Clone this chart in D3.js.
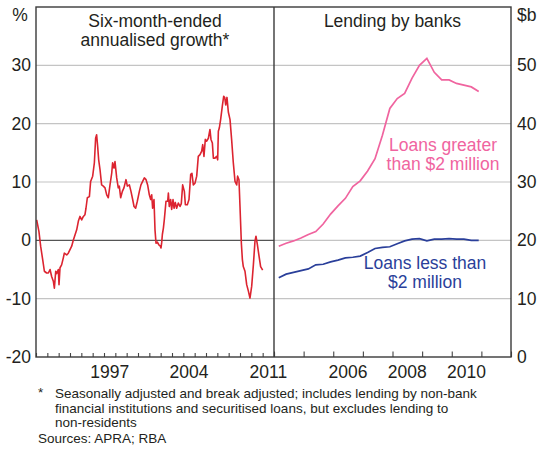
<!DOCTYPE html>
<html>
<head>
<meta charset="utf-8">
<script src="https://cdn.jsdelivr.net/npm/d3@7"></script>
<style>
  html, body { margin: 0; padding: 0; background: #fff; }
  svg { display: block; font-family: "Liberation Sans", Arial, Helvetica, sans-serif; }
</style>
</head>
<body>
<svg id="chart" width="537" height="450"></svg>
<script>
// ---------- DATA ----------
// Left panel: six-month-ended annualised growth (%), dates in decimal years
const growthDates = [
  1991.06,1991.26,1991.41,1991.59,1991.74,1991.94,1992.09,1992.24,1992.38,1992.53,
  1992.62,1992.74,1992.82,1992.97,1993.03,1993.12,1993.26,1993.41,1993.50,1993.71,
  1993.85,1994.00,1994.15,1994.29,1994.59,1994.74,1994.88,1995.03,1995.18,1995.32,
  1995.41,1995.53,1995.71,1995.82,1996.00,1996.15,1996.26,1996.35,1996.44,1996.53,
  1996.65,1996.79,1996.94,1997.09,1997.24,1997.38,1997.53,1997.68,1997.76,1997.88,
  1997.97,1998.12,1998.26,1998.35,1998.47,1998.62,1998.76,1998.94,1999.06,1999.24,
  1999.38,1999.53,1999.65,1999.79,1999.94,2000.12,2000.26,2000.41,2000.56,2000.71,
  2000.85,2001.00,2001.12,2001.21,2001.29,2001.41,2001.50,2001.59,2001.71,2001.85,
  2001.97,2002.03,2002.09,2002.15,2002.24,2002.32,2002.47,2002.62,2002.68,2002.76,
  2002.88,2002.97,2003.09,2003.18,2003.29,2003.41,2003.56,2003.71,2003.82,2003.94,
  2004.09,2004.18,2004.35,2004.50,2004.65,2004.76,2004.88,2005.03,2005.18,2005.32,
  2005.47,2005.62,2005.71,2005.82,2005.94,2006.06,2006.21,2006.35,2006.44,2006.56,
  2006.65,2006.79,2006.94,2007.03,2007.09,2007.18,2007.29,2007.44,2007.56,2007.65,
  2007.74,2007.85,2007.97,2008.12,2008.26,2008.41,2008.56,2008.71,2008.79,2008.91,
  2009.00,2009.12,2009.21,2009.29,2009.44,2009.59,2009.74,2009.88,2010.03,2010.18,
  2010.32,2010.41,2010.53,2010.68,2010.82,2011.00
];
const growthValues = [
  3.5,1.5,-1.0,-3.3,-5.3,-5.6,-5.6,-5.0,-6.2,-7.0,
  -8.2,-5.3,-5.7,-5.0,-7.6,-4.7,-4.2,-3.0,-2.2,-2.5,
  -2.2,-1.6,-1.0,0.0,1.8,3.3,4.1,3.5,4.1,4.4,
  5.5,7.3,7.5,10.1,11.0,13.3,17.5,18.1,16.1,13.8,
  12.1,9.5,9.3,9.0,7.8,7.3,9.5,11.5,13.3,12.4,
  13.5,10.7,9.0,9.3,7.3,8.4,9.0,10.4,9.3,9.5,
  8.4,7.0,5.8,5.5,6.7,8.4,9.5,10.1,10.7,10.4,
  9.5,7.8,7.0,7.8,5.5,7.0,1.8,-0.5,-0.3,-0.8,
  -1.0,-1.3,-0.4,1.0,2.1,3.5,6.7,6.7,8.1,5.8,
  7.0,5.3,7.0,5.5,6.5,5.5,6.4,5.8,6.3,9.5,
  8.4,6.1,6.1,7.0,11.3,11.5,9.5,9.8,11.0,14.4,
  14.7,15.3,16.4,14.4,17.3,17.0,17.5,19.0,17.3,16.7,
  14.1,14.1,14.4,13.8,18.7,19.3,20.7,23.0,24.7,24.5,
  23.2,24.5,22.0,20.7,17.3,13.3,10.1,9.5,11.0,10.4,
  5.8,-0.5,-3.3,-4.5,-5.3,-7.6,-8.7,-9.9,-7.9,-4.2,
  -0.2,0.7,-0.7,-2.7,-4.5,-5.1
];

// Right panel: lending by banks ($b), quarterly
const lendingQuarters = [
  "2004Q1","2004Q2","2004Q3","2004Q4","2005Q1","2005Q2","2005Q3","2005Q4",
  "2006Q1","2006Q2","2006Q3","2006Q4","2007Q1","2007Q2","2007Q3","2007Q4",
  "2008Q1","2008Q2","2008Q3","2008Q4","2009Q1","2009Q2","2009Q3","2009Q4",
  "2010Q1","2010Q2","2010Q3","2010Q4"
];
const loansOver2m = [
  19.0,19.5,19.9,20.4,21.0,21.5,22.8,24.5,25.9,27.2,29.2,30.2,31.9,34.0,
  38.0,42.6,44.3,45.2,47.8,50.0,51.2,48.8,47.5,47.5,46.9,46.6,46.3,45.5
];
const loansUnder2m = [
  13.6,14.2,14.5,14.8,15.1,15.8,15.9,16.3,16.6,17.0,17.1,17.3,17.9,18.6,
  18.8,18.9,19.4,19.9,20.2,20.3,19.9,20.2,20.2,20.3,20.2,20.2,20.0,20.0
];

const leftYTicks = [-20, -10, 0, 10, 20, 30];
const rightYTicks = [0, 10, 20, 30, 40, 50];
const leftYearTicks = d3.range(1991, 2013);
const rightYearTicks = d3.range(2004, 2013);
const leftYearLabels = [1997, 2004, 2011];
const rightYearLabels = [2006, 2008, 2010];

const footnoteLines = [
  "Seasonally adjusted and break adjusted; includes lending by non-bank",
  "financial institutions and securitised loans, but excludes lending to",
  "non-residents"
];

// ---------- LAYOUT ----------
const svg = d3.select("#chart");
const L = 36, M = 274, R = 511, T = 7, B = 357;
const TEXT = "#231f20";
const RED = "#dc2430", PINK = "#f0649f", BLUE = "#2a3f9a";
const FS = 17.5;

const xL = d3.scaleLinear().domain([1991, 2012]).range([L, M]);
const xR = d3.scaleLinear().domain([2004, 2012]).range([M, R]);
const yL = d3.scaleLinear().domain([-20, 40]).range([B, T]);
const yR = d3.scaleLinear().domain([0, 60]).range([B, T]);

const qToYear = q => +q.slice(0, 4) + (+q.slice(5) - 1) * 0.25 + 0.16;
const plainNum = d => String(d); // hyphen-minus as in the original

// gridlines
svg.append("g").selectAll("line").data(leftYTicks.filter(v => v !== 0 && v !== -20))
  .join("line").attr("x1", L).attr("x2", M)
  .attr("y1", d => yL(d)).attr("y2", d => yL(d))
  .attr("stroke", "#c4c4c4").attr("stroke-width", 1.2);
svg.append("g").selectAll("line").data(rightYTicks.filter(v => v !== 0))
  .join("line").attr("x1", M).attr("x2", R)
  .attr("y1", d => yR(d)).attr("y2", d => yR(d))
  .attr("stroke", "#c4c4c4").attr("stroke-width", 1.2);
// zero line left
svg.append("line").attr("x1", L).attr("x2", M).attr("y1", yL(0)).attr("y2", yL(0))
  .attr("stroke", "#555").attr("stroke-width", 1.3);

// series
const lineL = d3.line().x((d, i) => xL(growthDates[i])).y(d => yL(d));
svg.append("path").datum(growthValues).attr("d", lineL)
  .attr("fill", "none").attr("stroke", RED).attr("stroke-width", 1.6)
  .attr("stroke-linejoin", "round");

const lineR = d3.line().x((d, i) => xR(qToYear(lendingQuarters[i]))).y(d => yR(d));
svg.append("path").datum(loansOver2m).attr("d", lineR)
  .attr("fill", "none").attr("stroke", PINK).attr("stroke-width", 1.7);
svg.append("path").datum(loansUnder2m).attr("d", lineR)
  .attr("fill", "none").attr("stroke", BLUE).attr("stroke-width", 1.7);

// x axes (ticks inward)
const axL = svg.append("g").attr("transform", `translate(0,${B})`)
  .call(d3.axisBottom(xL).tickValues(leftYearTicks).tickSize(-4).tickFormat(""));
const axR = svg.append("g").attr("transform", `translate(0,${B})`)
  .call(d3.axisBottom(xR).tickValues(rightYearTicks).tickSize(-5.5).tickFormat(""));
[axL, axR].forEach(a => {
  a.select(".domain").remove();
  a.selectAll(".tick line").attr("stroke", "#444").attr("stroke-width", 1.1);
});

// frame
svg.append("rect").attr("x", L).attr("y", T).attr("width", R - L).attr("height", B - T)
  .attr("fill", "none").attr("stroke", "#3a3a3a").attr("stroke-width", 1.4);
svg.append("line").attr("x1", M).attr("x2", M).attr("y1", T).attr("y2", B)
  .attr("stroke", "#3a3a3a").attr("stroke-width", 1.4);

// x labels
svg.append("g").selectAll("text").data(leftYearLabels).join("text")
  .attr("x", d => xL(d + 0.5)).attr("y", 378).attr("text-anchor", "middle")
  .attr("font-size", FS).attr("fill", TEXT).text(d => d);
svg.append("g").selectAll("text").data(rightYearLabels).join("text")
  .attr("x", d => xR(d + 0.5)).attr("y", 378).attr("text-anchor", "middle")
  .attr("font-size", FS).attr("fill", TEXT).text(d => d);

// y labels
const ayL = svg.append("g").attr("transform", `translate(${L - 5},0)`)
  .call(d3.axisLeft(yL).tickValues(leftYTicks).tickSize(0).tickPadding(0).tickFormat(plainNum));
const ayR = svg.append("g").attr("transform", `translate(${R + 6},0)`)
  .call(d3.axisRight(yR).tickValues(rightYTicks).tickSize(0).tickPadding(0).tickFormat(plainNum));
[ayL, ayR].forEach(a => {
  a.select(".domain").remove();
  a.selectAll("text").attr("font-size", FS).attr("fill", TEXT)
    .attr("font-family", "'Liberation Sans', Arial, sans-serif");
});
svg.append("text").attr("x", 20).attr("y", 21).attr("text-anchor", "middle")
  .attr("font-size", FS).attr("fill", TEXT).text("%");
svg.append("text").attr("x", 517).attr("y", 21)
  .attr("font-size", FS).attr("fill", TEXT).text("$b");

// panel titles
svg.append("text").attr("x", (L + M) / 2).attr("y", 27).attr("text-anchor", "middle")
  .attr("font-size", FS).attr("fill", TEXT).text("Six-month-ended");
svg.append("text").attr("x", (L + M) / 2).attr("y", 46).attr("text-anchor", "middle")
  .attr("font-size", FS).attr("fill", TEXT).text("annualised growth*");
svg.append("text").attr("x", (M + R) / 2).attr("y", 27).attr("text-anchor", "middle")
  .attr("font-size", FS).attr("fill", TEXT).text("Lending by banks");

// series labels
svg.append("text").attr("x", 443).attr("y", 150.5).attr("text-anchor", "middle")
  .attr("font-size", FS).attr("fill", PINK).text("Loans greater");
svg.append("text").attr("x", 443).attr("y", 170).attr("text-anchor", "middle")
  .attr("font-size", FS).attr("fill", PINK).text("than $2 million");
svg.append("text").attr("x", 425).attr("y", 268.5).attr("text-anchor", "middle")
  .attr("font-size", FS).attr("fill", BLUE).text("Loans less than");
svg.append("text").attr("x", 425).attr("y", 288).attr("text-anchor", "middle")
  .attr("font-size", FS).attr("fill", BLUE).text("$2 million");

// footnotes
svg.append("text").attr("x", 38).attr("y", 397).attr("font-size", 13.5).attr("fill", TEXT).text("*");
svg.append("g").selectAll("text").data(footnoteLines).join("text")
  .attr("x", 55).attr("y", (d, i) => 398 + i * 14.6)
  .attr("font-size", 13.5).attr("fill", TEXT).text(d => d);
svg.append("text").attr("x", 38).attr("y", 442.5).attr("font-size", 13.5).attr("fill", TEXT)
  .text("Sources: APRA; RBA");
</script>
</body>
</html>
